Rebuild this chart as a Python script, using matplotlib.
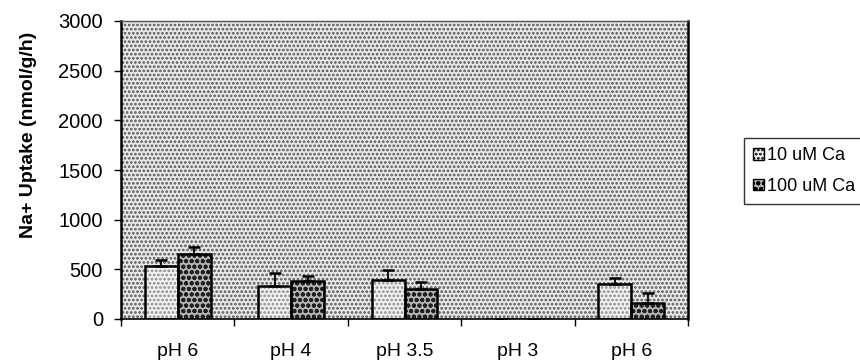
import matplotlib
matplotlib.use("Agg")
import matplotlib.pyplot as plt
import numpy as np
from matplotlib.patches import Rectangle

# data
groups = ["pH 6", "pH 4", "pH 3.5", "pH 3", "pH 6"]
series = ["10 uM Ca", "100 uM Ca"]
ca10 = [530, 333, 390, 0, 350]
ca10_err = [62, 135, 104, 0, 67]
ca100 = [650, 384, 300, 0, 158]
ca100_err = [75, 50, 77, 0, 100]

plt.rcParams["font.family"] = ["Liberation Sans", "DejaVu Sans"]
plt.rcParams["hatch.linewidth"] = 1.3

fig = plt.figure(figsize=(8.6, 3.62), dpi=100)
ax = fig.add_axes([121 / 860, 1 - 319 / 362, 567 / 860, 298 / 362])

# dotted grey plot area
ax.set_facecolor("#e8e8e8")
ax.add_patch(Rectangle((0, 0), 1, 1, transform=ax.transAxes, facecolor="none",
                       edgecolor="#555555", hatch="....", linewidth=0, zorder=0))

x = np.arange(len(groups))
w = 0.29
styles = [("#f2f2f2", "#8a8a8a", "...."), ("#b4b4b4", "#202020", "ooo")]
vals = [ca10, ca100]
errs = [ca10_err, ca100_err]
for i, (fc, hc, hatch) in enumerate(styles):
    xs = x + (i - 0.5) * w
    # pattern fill first, then the black outline on top
    ax.bar(xs, vals[i], w, facecolor=fc, edgecolor=hc, hatch=hatch, linewidth=0, zorder=2)
    ax.bar(xs, vals[i], w, facecolor="none", edgecolor="black", linewidth=1.8, zorder=2.5)
    ax.errorbar(xs, vals[i], yerr=[np.zeros(len(vals[i])), errs[i]], fmt="none",
                ecolor="black", elinewidth=1.3, capsize=4, capthick=1.8, zorder=3)

# legend handles drawn from the same styles
handles = [Rectangle((0, 0), 1, 1, facecolor=fc, edgecolor="black", hatch=hatch, linewidth=1)
           for fc, hc, hatch in styles]

ax.set_xlim(-0.5, len(groups) - 0.5)
ax.set_ylim(0, 3000)
ax.set_yticks(np.arange(0, 3001, 500))
ax.set_xticks(x)
ax.set_xticklabels(groups, fontsize=14)
ax.tick_params(axis="x", length=0, pad=17)
ax.set_xticks(np.arange(-0.5, len(groups) - 0.4, 1), minor=True)
ax.tick_params(axis="x", which="minor", length=5, width=1, direction="out")
ax.tick_params(axis="y", labelsize=14.5, length=5, width=1, direction="out", pad=8)
ax.set_ylabel("Na+ Uptake (nmol/g/h)", fontsize=14, fontweight="bold")
ax.yaxis.set_label_coords((37 - 121) / 567, (319 - 135) / 298)

ax.spines["left"].set_linewidth(1.8)
ax.spines["right"].set_linewidth(1.8)
ax.spines["top"].set_linewidth(1.0)
ax.spines["top"].set_color("#555555")
ax.spines["bottom"].set_linewidth(1.2)

leg = ax.legend(handles, series, loc="center left",
                bbox_to_anchor=((744 - 121) / 567, (319 - 171) / 298),
                frameon=True, fancybox=False, edgecolor="black", fontsize=13,
                handlelength=0.6, handleheight=0.6, handletextpad=0.2,
                borderpad=0.5, borderaxespad=0, labelspacing=0.75)
leg.get_frame().set_linewidth(1.0)

fig.savefig("out.png", dpi=100)
